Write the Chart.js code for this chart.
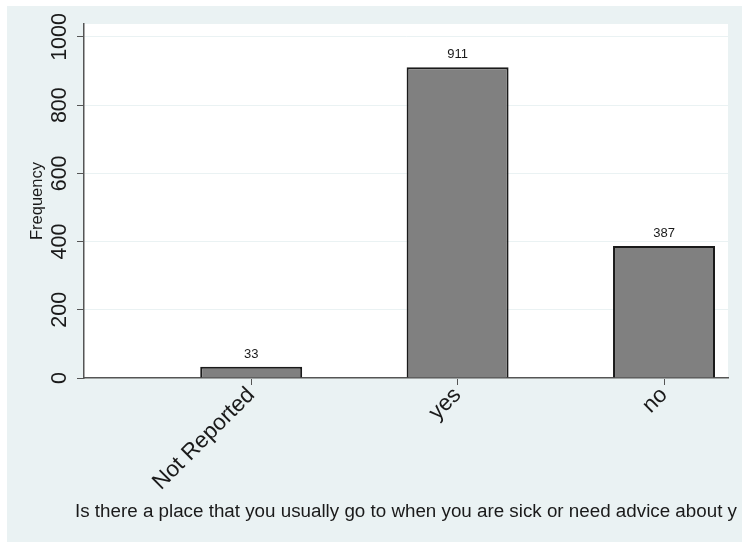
<!DOCTYPE html>
<html>
<head>
<meta charset="utf-8">
<script src="https://cdn.jsdelivr.net/npm/chart.js@4"></script>
<style>
  body { margin: 0; background: #ffffff; }
  #wrap { position: absolute; left: 7px; top: 6px; }
</style>
</head>
<body>
<div id="wrap"><canvas id="freqChart" width="735" height="536"></canvas></div>
<script>
// data
const categories = ['Not Reported', 'yes', 'no'];
const positions = [1, 2, 3];
const frequencies = [33, 911, 387];
const yTickValues = [0, 200, 400, 600, 800, 1000];
const yTitle = 'Frequency';
const xTitle = 'Is there a place that you usually go to when you are sick or need advice about y';

const FONT = '"Liberation Sans", Arial, Helvetica, sans-serif';

// background + white plot region, labels drawn on top
const stataLook = {
    id: 'stataLook',
    beforeDraw(chart) {
        const { ctx, chartArea } = chart;
        ctx.save();
        ctx.fillStyle = '#eaf2f3';
        ctx.fillRect(0, 0, chart.width, chart.height);
        ctx.fillStyle = '#ffffff';
        ctx.fillRect(chartArea.left, chartArea.top, chartArea.right - chartArea.left, chartArea.bottom - chartArea.top);
        ctx.restore();
    },
    afterDraw(chart) {
        const { ctx, chartArea } = chart;
        const yScale = chart.scales.y;
        const xScale = chart.scales.x;
        ctx.save();
        // rotated y tick labels
        ctx.fillStyle = '#1a1a1a';
        ctx.font = '21.5px ' + FONT;
        ctx.textAlign = 'center';
        ctx.textBaseline = 'middle';
        yTickValues.forEach(v => {
            ctx.save();
            ctx.translate(53, yScale.getPixelForValue(v));
            ctx.rotate(-Math.PI / 2);
            ctx.fillText(String(v), 0, 0);
            ctx.restore();
        });
        // x title: long, allowed to run past the plot like the original
        ctx.font = '18.8px ' + FONT;
        ctx.fillText(xTitle, (chartArea.left + chartArea.right) / 2, 506);
        // value labels above bars
        ctx.font = '13px ' + FONT;
        ctx.textBaseline = 'bottom';
        frequencies.forEach((v, i) => {
            ctx.fillText(String(v), xScale.getPixelForValue(positions[i]), yScale.getPixelForValue(v) - 6);
        });
        ctx.restore();
    }
};

new Chart(document.getElementById('freqChart'), {
    type: 'bar',
    data: {
        datasets: [{
            data: positions.map((p, i) => ({ x: p, y: frequencies[i] })),
            backgroundColor: '#808080',
            borderColor: '#1a1a1a',
            borderWidth: 2,
            categoryPercentage: 1,
            barPercentage: 0.494
        }]
    },
    options: {
        responsive: false,
        animation: false,
        layout: { padding: { top: 18, right: 14, left: 0, bottom: 0 } },
        plugins: {
            legend: { display: false },
            tooltip: { enabled: false }
        },
        scales: {
            x: {
                type: 'linear',
                offset: false,
                min: 0.19,
                max: 3.31,
                afterBuildTicks: scale => { scale.ticks = positions.map(v => ({ value: v })); },
                afterFit: scale => { scale.height = 164; },
                ticks: {
                    autoSkip: false,
                    minRotation: 45,
                    maxRotation: 45,
                    padding: -3,
                    color: '#1a1a1a',
                    font: { family: FONT, size: 22.5 },
                    callback: v => categories[positions.indexOf(v)]
                },
                grid: { offset: false, drawOnChartArea: false, tickLength: 7, tickColor: '#555555', tickWidth: 1 },
                border: { color: '#555555', width: 1.5 },
                title: { display: false }
            },
            y: {
                min: 0,
                max: 1038,
                afterBuildTicks: scale => { scale.ticks = yTickValues.map(v => ({ value: v })); },
                afterFit: scale => { scale.width = 77; },
                ticks: { display: false },
                grid: { color: '#eaf2f3', lineWidth: 1, tickLength: 7, tickColor: '#555555', tickWidth: 1 },
                border: { color: '#555555', width: 1.5 },
                title: {
                    display: true,
                    text: yTitle,
                    color: '#1a1a1a',
                    font: { family: FONT, size: 16.5 },
                    padding: { top: 21, bottom: 0 }
                }
            }
        }
    },
    plugins: [stataLook]
});
</script>
</body>
</html>
